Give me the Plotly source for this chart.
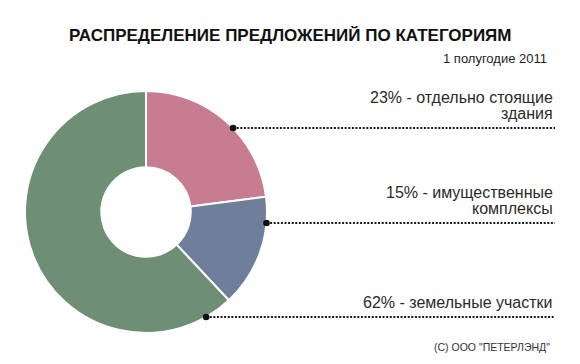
import math
import plotly.graph_objects as go

# ---- data ----
categories = ["отдельно стоящие здания", "имущественные комплексы", "земельные участки"]
shares = [23, 15, 62]
label_line1 = ["23% - отдельно стоящие", "15% - имущественные", "62% - земельные участки"]
label_line2 = ["здания", "комплексы", ""]
slice_colors = ["#c77c92", "#6e7e9b", "#6f8f75"]

title_text = "РАСПРЕДЕЛЕНИЕ ПРЕДЛОЖЕНИЙ ПО КАТЕГОРИЯМ"
subtitle_text = "1 полугодие 2011"
footer_text = "(С) ООО \"ПЕТЕРЛЭНД\""

# ---- layout geometry (pixels) ----
W, H = 580, 364
cx, cy, R = 146, 212, 121
leader_y = [128, 223, 317]
leader_x_end = 555
label_right = 555

fig = go.Figure()

fig.add_trace(go.Pie(
    labels=categories, values=shares, sort=False, direction="clockwise", rotation=0,
    hole=0.37, textinfo="none", hoverinfo="label+percent",
    marker=dict(colors=slice_colors, line=dict(color="white", width=2)),
    domain=dict(x=[(cx - R) / W, (cx + R) / W], y=[(H - cy - R) / H, (H - cy + R) / H]),
    showlegend=False,
))

# invisible helper trace so the pixel-like cartesian axes exist
fig.add_trace(go.Scatter(x=[0, W], y=[0, H], mode="markers", marker=dict(opacity=0),
                         hoverinfo="skip", showlegend=False))

shapes = []
# leader lines with dots on the outer edge of the ring
for ly in leader_y:
    dy = ly - cy
    dx = math.sqrt(max(R * R - dy * dy, 0))
    x0 = cx + dx
    shapes.append(dict(type="line", xref="x", yref="y", x0=x0, x1=leader_x_end, y0=ly, y1=ly,
                       layer="above", line=dict(color="#1a1a1a", width=2, dash="2px,1.6px")))
    shapes.append(dict(type="circle", xref="x", yref="y", x0=x0 - 3.3, x1=x0 + 3.3,
                       y0=ly - 3.3, y1=ly + 3.3, layer="above",
                       fillcolor="#111111", line=dict(color="#111111", width=0)))

annotations = []
label_font = dict(family="Liberation Sans, Arial, sans-serif", size=16, color="#2a2a2a")
for i, ly in enumerate(leader_y):
    if label_line2[i]:
        annotations.append(dict(x=label_right, y=ly - 30.5, text=label_line1[i], xref="x", yref="y",
                                xanchor="right", yanchor="middle", showarrow=False, font=label_font))
        annotations.append(dict(x=label_right, y=ly - 15, text=label_line2[i], xref="x", yref="y",
                                xanchor="right", yanchor="middle", showarrow=False, font=label_font))
    else:
        annotations.append(dict(x=label_right, y=ly - 15, text=label_line1[i], xref="x", yref="y",
                                xanchor="right", yanchor="middle", showarrow=False, font=label_font))

annotations.append(dict(x=290, y=35, text="<b>" + title_text + "</b>", xref="x", yref="y",
                        xanchor="center", yanchor="middle", showarrow=False,
                        font=dict(family="Liberation Sans, Arial, sans-serif", size=17, color="#111111")))
annotations.append(dict(x=549, y=58, text=subtitle_text, xref="x", yref="y",
                        xanchor="right", yanchor="middle", showarrow=False,
                        font=dict(family="Liberation Sans, Arial, sans-serif", size=13, color="#222222")))
annotations.append(dict(x=552, y=347, text=footer_text, xref="x", yref="y",
                        xanchor="right", yanchor="middle", showarrow=False,
                        font=dict(family="Liberation Sans, Arial, sans-serif", size=10.5, color="#333333")))

fig.update_layout(
    width=W, height=H, margin=dict(l=0, r=0, t=0, b=0),
    paper_bgcolor="white", plot_bgcolor="rgba(0,0,0,0)",
    xaxis=dict(range=[0, W], visible=False, fixedrange=True, domain=[0, 1]),
    yaxis=dict(range=[H, 0], visible=False, fixedrange=True, domain=[0, 1]),
    annotations=annotations, shapes=shapes,
)

fig.write_html("out.html", config={"displayModeBar": False},
               post_script="document.body.style.margin='0';")
